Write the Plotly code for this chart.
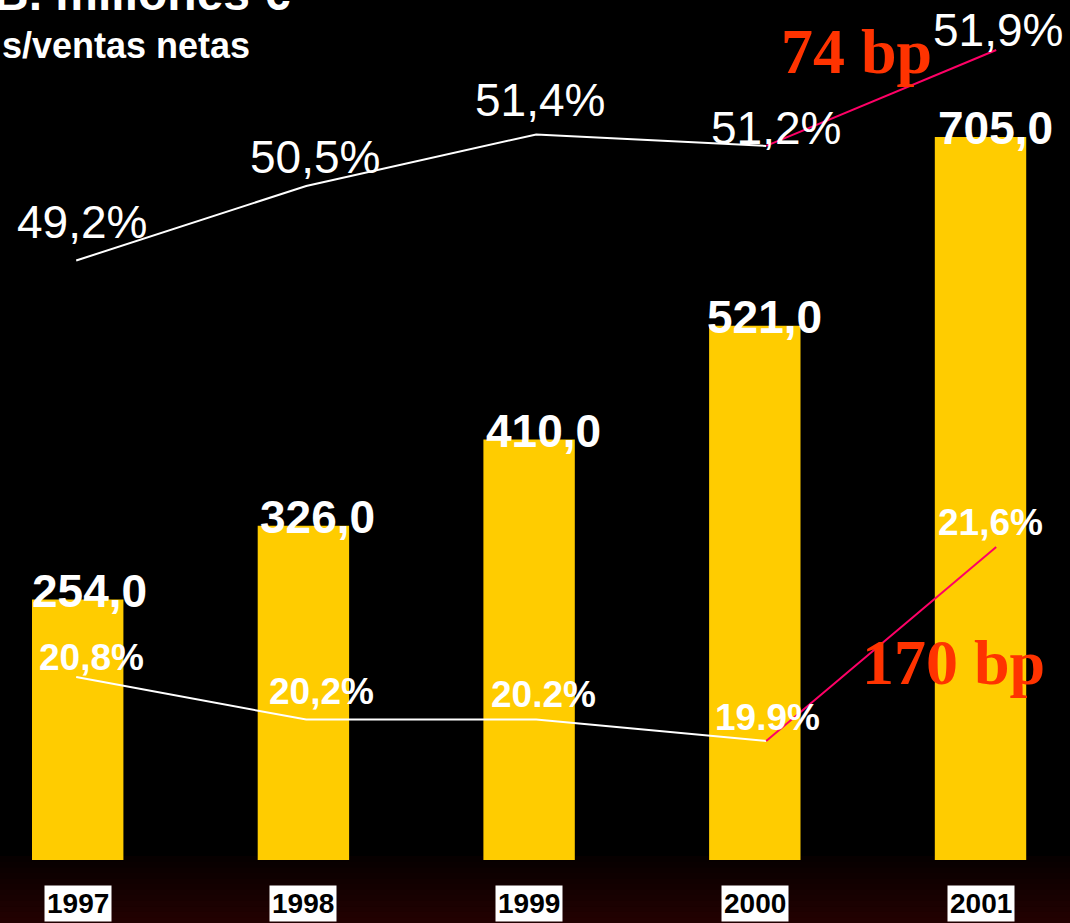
import plotly.graph_objects as go

# ---- data ----
years = ["1997", "1998", "1999", "2000", "2001"]
sales = [254.0, 326.0, 410.0, 521.0, 705.0]
sales_labels = ["254,0", "326,0", "410,0", "521,0", "705,0"]
gross_margin = [49.2, 50.5, 51.4, 51.2, 51.9]
gross_labels = ["49,2%", "50,5%", "51,4%", "51,2%", "51,9%"]
ebitda_margin = [20.8, 20.2, 20.2, 19.9, 21.6]
ebitda_labels = ["20,8%", "20,2%", "20.2%", "19.9%", "21,6%"]
title_line1 = "B. millones €"
title_line2 = "s/ventas netas"
delta_top = "74 bp"
delta_bottom = "170 bp"

# ---- styles ----
W, H = 1070, 923
PLOT_H = 860
BAR = "#FFCC00"
PINK = "#FF0066"
RED = "#FF3300"
SANS = "Liberation Sans, Arial, sans-serif"
SERIF = "Liberation Serif, Times New Roman, serif"

fig = go.Figure()

fig.add_trace(go.Bar(x=years, y=sales, marker=dict(color=BAR, line=dict(width=0)),
                     width=0.405, xaxis="x", yaxis="y", hoverinfo="skip"))

# gross margin: white trend 1997-2000, pink delta connector 2000->2001
fig.add_trace(go.Scatter(x=years[:4], y=gross_margin[:4], mode="lines",
                         line=dict(color="white", width=2), xaxis="x2", yaxis="y2",
                         hoverinfo="skip"))
fig.add_trace(go.Scatter(x=years[3:], y=gross_margin[3:], mode="lines",
                         line=dict(color=PINK, width=2), xaxis="x2", yaxis="y4",
                         hoverinfo="skip"))
# ebitda margin
fig.add_trace(go.Scatter(x=years[:4], y=ebitda_margin[:4], mode="lines",
                         line=dict(color="white", width=2), xaxis="x2", yaxis="y3",
                         hoverinfo="skip"))
fig.add_trace(go.Scatter(x=years[3:], y=ebitda_margin[3:], mode="lines",
                         line=dict(color=PINK, width=2), xaxis="x2", yaxis="y5",
                         hoverinfo="skip"))

annotations = []
# bar value labels (category index positions)
bar_xshift = [12, 14, 14, 10, 15]
for i, (v, t, xs) in enumerate(zip(sales, sales_labels, bar_xshift)):
    annotations.append(dict(x=i, y=v, xref="x", yref="y", text=f"<b>{t}</b>",
                            showarrow=False, xanchor="center", yanchor="middle",
                            xshift=xs, yshift=9,
                            font=dict(family=SANS, size=46, color="white")))
# gross margin labels
g_xshift = [6, 9, 4, 10, 2]
g_yshift = [39, 29, 34, 18, 20]
g_yref = ["y2", "y2", "y2", "y2", "y4"]
for i, (v, t, xs, ys, yr) in enumerate(zip(gross_margin, gross_labels, g_xshift,
                                            g_yshift, g_yref)):
    annotations.append(dict(x=i, y=v, xref="x2", yref=yr, text=t, showarrow=False,
                            xanchor="center", yanchor="middle", xshift=xs, yshift=ys,
                            font=dict(family=SANS, size=46, color="white")))
# ebitda margin labels
e_xshift = [15, 15, 7, 1, -6]
e_yshift = [19, 28, 25, 23, 25]
e_yref = ["y3", "y3", "y3", "y3", "y5"]
for i, (v, t, xs, ys, yr) in enumerate(zip(ebitda_margin, ebitda_labels, e_xshift,
                                            e_yshift, e_yref)):
    annotations.append(dict(x=i, y=v, xref="x2", yref=yr, text=f"<b>{t}</b>",
                            showarrow=False, xanchor="center", yanchor="middle",
                            xshift=xs, yshift=ys,
                            font=dict(family=SANS, size=37, color="white")))

def py(px):
    return (PLOT_H - px) / PLOT_H

# basis point deltas
annotations.append(dict(x=856 / W, y=py(51), xref="paper", yref="paper",
                        text=f"<b>{delta_top}</b>", showarrow=False,
                        xanchor="center", yanchor="middle",
                        font=dict(family=SERIF, size=64, color=RED)))
annotations.append(dict(x=953 / W, y=py(662), xref="paper", yref="paper",
                        text=f"<b>{delta_bottom}</b>", showarrow=False,
                        xanchor="center", yanchor="middle",
                        font=dict(family=SERIF, size=64, color=RED)))
# titles (cut at edges like the slide)
annotations.append(dict(x=-8 / W, y=py(22), xref="paper", yref="paper",
                        text=f"<b>{title_line1}</b>", showarrow=False,
                        xanchor="left", yanchor="bottom",
                        font=dict(family=SANS, size=48, color="white")))
annotations.append(dict(x=0, y=py(68), xref="paper", yref="paper",
                        text=f"<b>{title_line2}</b>", showarrow=False,
                        xanchor="left", yanchor="bottom",
                        font=dict(family=SANS, size=36, color="white")))
# year labels in white boxes
for i, yr in enumerate(years):
    annotations.append(dict(x=i, y=py(903.5), xref="x", yref="paper",
                            text=f"<b>{yr}</b>", showarrow=False,
                            xanchor="center", yanchor="middle",
                            bgcolor="white", borderpad=2,
                            font=dict(family=SANS, size=28, color="black")))

# dark red gradient band at the bottom
shapes = []
n = 12
top_px, bot_px = 856, H
for i in range(n):
    y0 = top_px + (bot_px - top_px) * i / n
    y1 = top_px + (bot_px - top_px) * (i + 1) / n + 0.5
    f = (i + 0.5) / n
    r = int(6 + 30 * f)
    g = int(2 * f)
    shapes.append(dict(type="rect", xref="paper", yref="paper", x0=0, x1=1,
                       y0=py(y1), y1=py(y0), fillcolor=f"rgb({r},{g},{g})",
                       line=dict(width=0), layer="below"))

hidden = dict(visible=False, fixedrange=True)
fig.update_layout(
    width=W, height=H,
    margin=dict(l=0, r=0, t=0, b=H - PLOT_H, pad=0),
    paper_bgcolor="black", plot_bgcolor="rgba(0,0,0,0)",
    showlegend=False,
    xaxis=dict(type="category", categoryorder="array", categoryarray=years,
               range=[-0.3443, 4.3965], **hidden),
    xaxis2=dict(type="category", categoryorder="array", categoryarray=years,
                overlaying="x", range=[-0.3313, 4.3209], **hidden),
    yaxis=dict(range=[0, 838.6], **hidden),
    yaxis2=dict(overlaying="y", range=[38.736, 53.747], **hidden),
    yaxis3=dict(overlaying="y", range=[18.224, 30.326], **hidden),
    yaxis4=dict(overlaying="y", range=[45.988, 52.265], **hidden),
    yaxis5=dict(overlaying="y", range=[18.856, 26.396], **hidden),
    annotations=annotations,
    shapes=shapes,
)

fig.write_html("out.html", config={"displayModeBar": False},
               post_script="document.body.style.margin='0';document.body.style.background='black';")
